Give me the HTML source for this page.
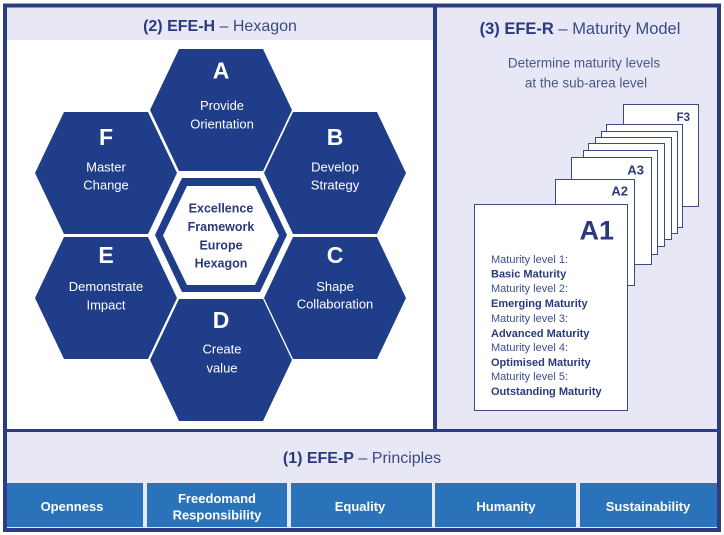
<!DOCTYPE html>
<html><head><meta charset="utf-8"><style>html,body{margin:0;padding:0;background:#fff;}svg{display:block}</style></head>
<body>
<svg width="724" height="535" viewBox="0 0 724 535" xmlns="http://www.w3.org/2000/svg" font-family="'Liberation Sans', sans-serif">
<rect x="0" y="0" width="724" height="535" fill="#fff"/>
<rect x="5" y="5" width="714" height="525" fill="#e7e7f5"/>
<rect x="7" y="40" width="426" height="389" fill="#fff"/>
<!-- frame -->
<rect x="5" y="5.5" width="714" height="524.5" fill="none" stroke="#2b3d80" stroke-width="4"/>
<rect x="433" y="6" width="4" height="424" fill="#2b3d80"/>
<rect x="5" y="429" width="714" height="3" fill="#2b3d80"/>

<!-- titles -->
<text x="220" y="31" font-size="16" text-anchor="middle" fill="#3a4a84"><tspan font-weight="bold" fill="#2a3a7c">(2) EFE-H</tspan> – Hexagon</text>
<text x="580" y="34" font-size="16.5" text-anchor="middle" fill="#3a4a84"><tspan font-weight="bold" fill="#2a3a7c">(3) EFE-R</tspan> – Maturity Model</text>
<text x="584" y="67.5" font-size="13.5" text-anchor="middle" fill="#4a5888">Determine maturity levels</text>
<text x="586" y="87.5" font-size="13.5" text-anchor="middle" fill="#4a5888">at the sub-area level</text>
<text x="362" y="463" font-size="16" text-anchor="middle" fill="#3a4a84"><tspan font-weight="bold" fill="#2a3a7c">(1) EFE-P</tspan> – Principles</text>

<!-- hexagons -->
<g fill="#203d8a">
<polygon points="179,49 263,49 292,110 263,171 179,171 150,110"/>
<polygon points="64,112 148,112 177,173 148,234 64,234 35,173"/>
<polygon points="293,112 377,112 406,173 377,234 293,234 264,173"/>
<polygon points="64,237 148,237 177,298 148,359 64,359 35,298"/>
<polygon points="293,237 377,237 406,298 377,359 293,359 264,298"/>
<polygon points="179,299 263,299 292,360 263,421 179,421 150,360"/>
<polygon points="182,178 260,178 287,235 260,292 182,292 155,235"/>
</g>
<polygon points="187,186 255,186 279,235.5 255,285 187,285 163,235.5" fill="#fff"/>

<g fill="#fff" text-anchor="middle">
<text x="221" y="78.5" font-size="23" font-weight="bold">A</text>
<text x="222" y="110" font-size="13">Provide</text>
<text x="222" y="128.5" font-size="13">Orientation</text>
<text x="106" y="145" font-size="23" font-weight="bold">F</text>
<text x="106" y="171.5" font-size="13">Master</text>
<text x="106" y="189.5" font-size="13">Change</text>
<text x="335" y="145" font-size="23" font-weight="bold">B</text>
<text x="335" y="171.5" font-size="13">Develop</text>
<text x="335" y="189.5" font-size="13">Strategy</text>
<text x="106" y="263" font-size="23" font-weight="bold">E</text>
<text x="106" y="291" font-size="13">Demonstrate</text>
<text x="106" y="309.5" font-size="13">Impact</text>
<text x="335" y="263" font-size="23" font-weight="bold">C</text>
<text x="335" y="291" font-size="13">Shape</text>
<text x="335" y="308.5" font-size="13">Collaboration</text>
<text x="221" y="328" font-size="23" font-weight="bold">D</text>
<text x="222" y="353.5" font-size="13">Create</text>
<text x="222" y="372.5" font-size="13">value</text>
</g>
<g fill="#2a3a7c" text-anchor="middle" font-size="12.5" font-weight="bold">
<text x="221" y="212.5">Excellence</text>
<text x="221" y="231">Framework</text>
<text x="221" y="249.5">Europe</text>
<text x="221" y="267.5">Hexagon</text>
</g>

<!-- pages -->
<g fill="#fff" stroke="#3b4a82" stroke-width="1">
<rect x="623.5" y="104.5" width="75" height="102"/>
<rect x="606.5" y="124.5" width="76" height="103"/>
<rect x="601.5" y="131.5" width="76" height="102"/>
<rect x="595.5" y="137.5" width="76" height="102"/>
<rect x="588.5" y="143.5" width="76" height="103"/>
<rect x="583.5" y="150.5" width="74" height="104"/>
<rect x="571.5" y="157.5" width="80" height="107"/>
<rect x="555.5" y="179.5" width="79" height="106"/>
<rect x="474.5" y="204.5" width="153" height="206"/>
</g>
<g fill="#2a3a7c" font-weight="bold" text-anchor="end">
<text x="690" y="121" font-size="11.5">F3</text>
<text x="644" y="174.5" font-size="13">A3</text>
<text x="628" y="195.5" font-size="13">A2</text>
<text x="614" y="239.5" font-size="27">A1</text>
</g>
<g font-size="11" fill="#3e4e8c">
<text x="491" y="263">Maturity level 1:</text>
<text x="491" y="277.5" font-weight="bold" fill="#2a3a7c">Basic Maturity</text>
<text x="491" y="292">Maturity level 2:</text>
<text x="491" y="307" font-weight="bold" fill="#2a3a7c">Emerging Maturity</text>
<text x="491" y="322">Maturity level 3:</text>
<text x="491" y="337" font-weight="bold" fill="#2a3a7c">Advanced Maturity</text>
<text x="491" y="351">Maturity level 4:</text>
<text x="491" y="366" font-weight="bold" fill="#2a3a7c">Optimised Maturity</text>
<text x="491" y="380">Maturity level 5:</text>
<text x="491" y="395" font-weight="bold" fill="#2a3a7c">Outstanding Maturity</text>
</g>

<!-- principle boxes -->
<g fill="#2a73ba">
<rect x="7" y="483" width="136" height="44"/>
<rect x="147" y="483" width="140" height="44"/>
<rect x="291" y="483" width="141" height="44"/>
<rect x="435" y="483" width="141" height="44"/>
<rect x="580" y="483" width="137" height="44"/>
</g>
<g fill="#fff" font-weight="bold" font-size="13" text-anchor="middle">
<text x="72" y="511">Openness</text>
<text x="217" y="503">Freedomand</text>
<text x="217" y="519.5">Responsibility</text>
<text x="360" y="511">Equality</text>
<text x="506" y="511">Humanity</text>
<text x="648" y="511">Sustainability</text>
</g>
</svg>
</body></html>
